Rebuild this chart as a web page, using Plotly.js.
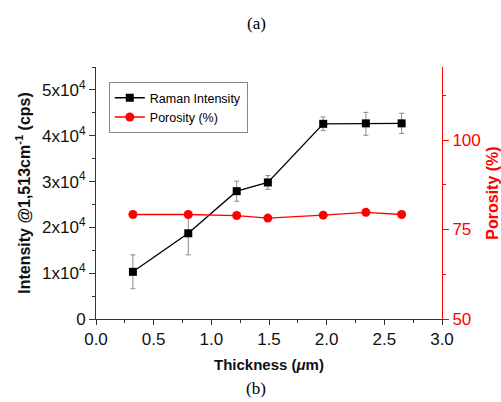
<!DOCTYPE html>
<html>
<head>
<meta charset="utf-8">
<script src="https://cdn.plot.ly/plotly-3.0.1.min.js"></script>
<style>html,body{margin:0;padding:0;background:#fff;}#chart{width:501px;height:402px;}</style>
</head>
<body>
<div id="chart"></div>
<script>
// Data
const thickness = [0.32, 0.80, 1.22, 1.49, 1.97, 2.34, 2.65];
const ramanIntensity = [10300, 18700, 27900, 29800, 42600, 42700, 42700];
const ramanErrPlus = [3700, 4700, 2200, 1500, 1500, 2400, 2200];
const ramanErrMinus = [3700, 4700, 2200, 1500, 1500, 2600, 2200];
const porosity = [79.2, 79.2, 78.9, 78.2, 79.0, 79.8, 79.2];

const leftTickVals = [0, 10000, 20000, 30000, 40000, 50000];
const leftTickText = ['0', '1x10<sup>4</sup>', '2x10<sup>4</sup>', '3x10<sup>4</sup>', '4x10<sup>4</sup>', '5x10<sup>4</sup>'];
const rightTickVals = [50, 75, 100];
const xTickVals = [0, 0.5, 1.0, 1.5, 2.0, 2.5, 3.0];
const xTickText = ['0.0', '0.5', '1.0', '1.5', '2.0', '2.5', '3.0'];

const font = '"Liberation Sans", Arial, sans-serif';
const serif = '"Liberation Serif", "Times New Roman", serif';
const axisColor = '#333';

const traces = [
  {
    x: thickness, y: ramanIntensity, name: 'Raman Intensity',
    type: 'scatter', mode: 'lines+markers',
    line: {color: '#000', width: 1.3},
    marker: {symbol: 'square', size: 8, color: '#000'},
    error_y: {type: 'data', symmetric: false, array: ramanErrPlus, arrayminus: ramanErrMinus,
              color: '#8a8a8a', thickness: 1, width: 2.5},
    xaxis: 'x', yaxis: 'y'
  },
  {
    x: thickness, y: porosity, name: 'Porosity (%)',
    type: 'scatter', mode: 'lines+markers',
    line: {color: '#ff0000', width: 1.3},
    marker: {symbol: 'circle', size: 9, color: '#ff0000'},
    xaxis: 'x', yaxis: 'y2'
  }
];

const layout = {
  width: 501, height: 402,
  margin: {l: 96, r: 59, t: 67, b: 83},
  paper_bgcolor: '#fff', plot_bgcolor: '#fff',
  showlegend: true,
  legend: {
    x: 0.037, y: 0.94, xanchor: 'left', yanchor: 'top',
    bgcolor: 'rgba(255,255,255,1)', bordercolor: '#888', borderwidth: 1,
    font: {family: font, size: 12.5, color: '#000'},
    tracegroupgap: 0, itemwidth: 30
  },
  xaxis: {
    range: [0, 3.0], tickvals: xTickVals, ticktext: xTickText,
    showgrid: false, zeroline: false, showline: true, linecolor: axisColor, linewidth: 1,
    ticks: 'outside', ticklen: 5, tickcolor: axisColor,
    minor: {dtick: 0.25, ticks: 'outside', ticklen: 3, tickcolor: axisColor, showgrid: false},
    tickfont: {family: font, size: 17, color: '#111'},
    title: {text: '<b>Thickness (<i>μ</i>m)</b>', font: {family: font, size: 15, color: '#111'}, standoff: 11},
    automargin: false
  },
  xaxis2: {
    range: [0, 3.0], overlaying: 'x', side: 'top', anchor: 'y',
    tickvals: xTickVals, showticklabels: false,
    showgrid: false, zeroline: false, showline: true, linecolor: axisColor, linewidth: 1,
    ticks: 'inside', ticklen: 4, tickcolor: axisColor,
    minor: {dtick: 0.25, ticks: 'inside', ticklen: 2, tickcolor: axisColor, showgrid: false}
  },
  yaxis: {
    range: [0, 55000], tickvals: leftTickVals, ticktext: leftTickText,
    showgrid: false, zeroline: false, showline: true, linecolor: axisColor, linewidth: 1,
    ticks: 'outside', ticklen: 6, tickcolor: axisColor,
    minor: {dtick: 5000, ticks: 'outside', ticklen: 3, tickcolor: axisColor, showgrid: false},
    tickfont: {family: font, size: 17, color: '#111'},
    title: {text: '<b>Intensity @1,513cm<sup>-1</sup> (cps)</b>', font: {family: font, size: 16, color: '#111'}, standoff: 7},
    automargin: false
  },
  yaxis2: {
    range: [50, 120.4], overlaying: 'y', side: 'right', anchor: 'x',
    tickvals: rightTickVals,
    showgrid: false, zeroline: false, showline: true, linecolor: '#ff0000', linewidth: 1,
    ticks: 'outside', ticklen: 6, tickcolor: '#ff0000',
    minor: {dtick: 12.5, ticks: 'outside', ticklen: 3, tickcolor: '#ff0000', showgrid: false},
    tickfont: {family: font, size: 17, color: '#ff0000'},
    title: {text: '<b>Porosity (%)</b>', font: {family: font, size: 16, color: '#ff0000'}, standoff: 8},
    automargin: false
  },
  annotations: [
    {text: '(a)', xref: 'paper', yref: 'paper', x: 0.465, y: 1.171, showarrow: false,
     xanchor: 'center', yanchor: 'middle', font: {family: serif, size: 17, color: '#000'}},
    {text: '(b)', xref: 'paper', yref: 'paper', x: 0.462, y: -0.274, showarrow: false,
     xanchor: 'center', yanchor: 'middle', font: {family: serif, size: 17, color: '#000'}}
  ]
};

Plotly.newPlot('chart', traces, layout, {displayModeBar: false, staticPlot: true});
</script>
</body>
</html>
